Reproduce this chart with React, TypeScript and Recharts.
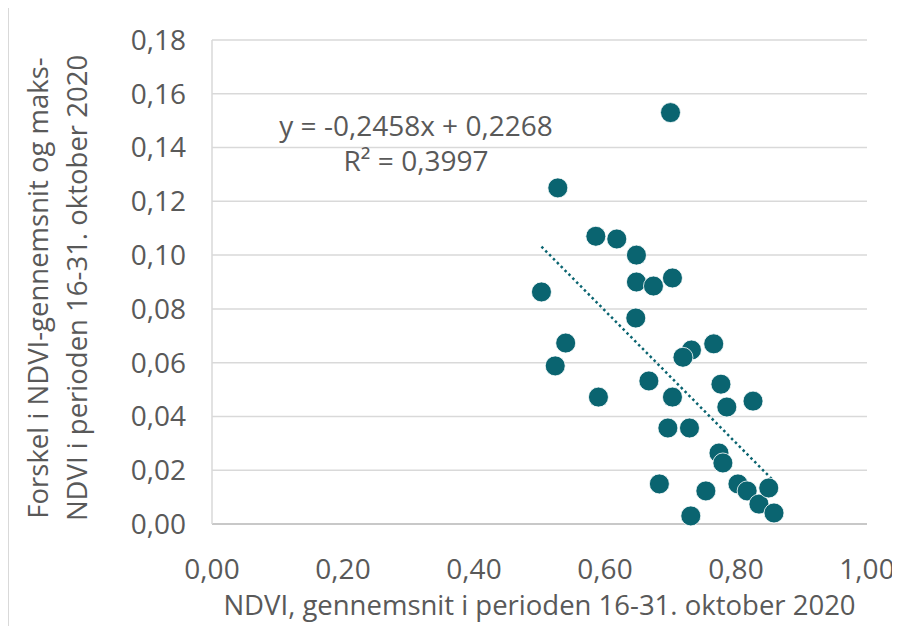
import React from "react";
import { ScatterChart, Scatter, XAxis, YAxis, CartesianGrid, ReferenceLine, Label } from "recharts";

// NDVI average 16-31 Oct 2020 (x) vs. difference between average and max NDVI (y)
const ndviMean = [
  0.700, 0.528, 0.586, 0.618, 0.648, 0.648, 0.674, 0.703, 0.503, 0.647, 0.540,
  0.524, 0.590, 0.667, 0.703, 0.732, 0.719, 0.766, 0.777, 0.786, 0.826, 0.696,
  0.729, 0.774, 0.780, 0.683, 0.754, 0.803, 0.817, 0.835, 0.850, 0.858, 0.731,
];
const ndviDiff = [
  0.153, 0.125, 0.107, 0.106, 0.100, 0.090, 0.0885, 0.0915, 0.0863, 0.0766, 0.0673,
  0.0588, 0.0472, 0.0532, 0.0472, 0.0647, 0.062, 0.067, 0.052, 0.0435, 0.0457, 0.0357,
  0.0357, 0.0264, 0.0227, 0.0149, 0.0123, 0.0149, 0.0123, 0.0074, 0.0134, 0.0041, 0.003,
];
const xTicks = [0, 0.2, 0.4, 0.6, 0.8, 1.0];
const yTicks = [0, 0.02, 0.04, 0.06, 0.08, 0.1, 0.12, 0.14, 0.16, 0.18];
const slope = -0.2458;
const intercept = 0.2268;
const r2 = 0.3997;

const points = ndviMean.map((x, i) => ({ x, y: ndviDiff[i] }));
const xMin = Math.min(...ndviMean);
const xMax = Math.max(...ndviMean);
const trend = [
  { x: xMin, y: slope * xMin + intercept },
  { x: xMax, y: slope * xMax + intercept },
];

const TEAL = "#0a6470";
const TXT = "#595959";
const FONT = "'Open Sans', sans-serif";
const fmt = (v: number, d: number) => v.toFixed(d).replace(".", ",");

const YTitle = ({ viewBox }: any) => {
  const cy = viewBox.y + viewBox.height / 2 + 6;
  return (
    <g fill={TXT} fontSize={27.5} fontFamily={FONT}>
      <text x={28} y={cy} transform={`rotate(-90 28 ${cy})`} textAnchor="middle" dominantBaseline="central">
        Forskel i NDVI-gennemsnit  og maks-
      </text>
      <text x={67} y={cy} transform={`rotate(-90 67 ${cy})`} textAnchor="middle" dominantBaseline="central">
        NDVI i perioden 16-31. oktober 2020
      </text>
    </g>
  );
};

export default function App() {
  return (
    <div style={{ position: "relative", width: 891, height: 618, borderLeft: "1px solid #d9d9d9", boxSizing: "border-box" }}>
      <ScatterChart width={890} height={618} margin={{ top: 32, right: 32, left: 0, bottom: 8 }}>
        <CartesianGrid vertical={false} stroke="#d9d9d9" strokeWidth={1.5} />
        <XAxis
          type="number" dataKey="x" domain={[0, 1]} ticks={xTicks} height={94}
          tickFormatter={v => fmt(v, 2)} tickLine={false} tickSize={0} tickMargin={35}
          axisLine={{ stroke: "#bfbfbf", strokeWidth: 1.5 }}
          tick={{ fill: TXT, fontSize: 28, fontFamily: FONT }}
        >
          <Label value="NDVI, gennemsnit i perioden 16-31. oktober 2020" position="insideBottom" offset={3}
            fill={TXT} fontSize={27.5} fontFamily={FONT} />
        </XAxis>
        <YAxis
          type="number" dataKey="y" domain={[0, 0.18]} ticks={yTicks} width={203}
          tickFormatter={v => fmt(v, 2)} tickLine={false} tickSize={0} tickMargin={26}
          axisLine={{ stroke: "#d9d9d9", strokeWidth: 1.5 }}
          tick={{ fill: TXT, fontSize: 28, fontFamily: FONT }}
        >
          <Label content={<YTitle />} />
        </YAxis>
        <ReferenceLine
          segment={trend} stroke={TEAL} strokeWidth={2.5} strokeDasharray="2.5 3" ifOverflow="visible"
        />
        <Scatter data={points} fill={TEAL} isAnimationActive={false}
          shape={(p: any) => <circle cx={p.cx} cy={p.cy} r={10} fill={TEAL} stroke="#fff" strokeWidth={0.8} />} />
      </ScatterChart>
      <div style={{ position: "absolute", left: 261, top: 100, width: 292, textAlign: "center", color: TXT, fontFamily: FONT, fontSize: 28, lineHeight: "35px", whiteSpace: "nowrap" }}>
        <div>y = {fmt(slope, 4)}x + {fmt(intercept, 4)}</div>
        <div>R² = {fmt(r2, 4)}</div>
      </div>
    </div>
  );
}
